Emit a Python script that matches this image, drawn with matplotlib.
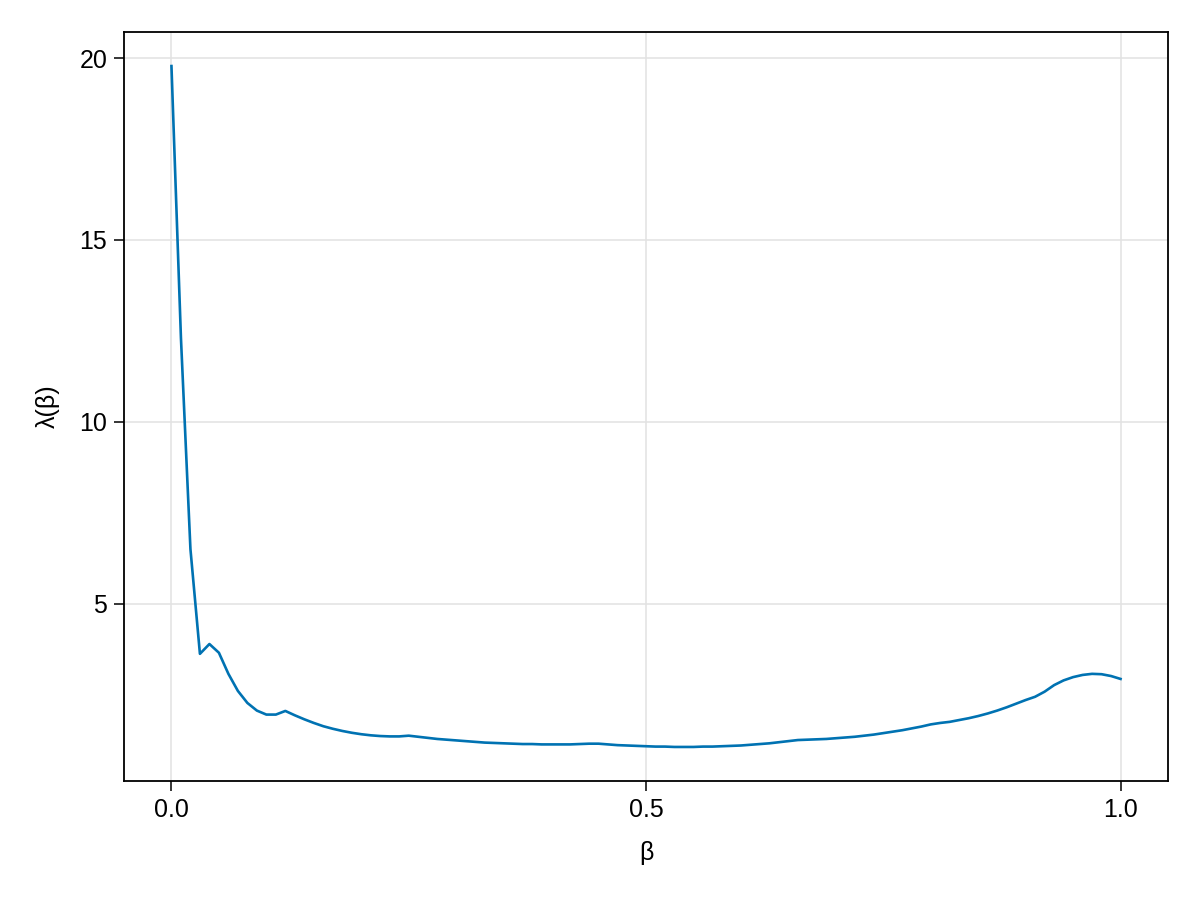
import matplotlib
matplotlib.use("Agg")
import matplotlib.pyplot as plt

beta = [i / 100 for i in range(101)]
lam = [19.78, 12.3, 6.5, 3.62, 3.89, 3.65, 3.07, 2.60, 2.27, 2.06,
       1.95, 1.95, 2.05, 1.93, 1.82, 1.72, 1.63, 1.56, 1.50, 1.45,
       1.41, 1.38, 1.36, 1.35, 1.35, 1.37, 1.34, 1.31, 1.28, 1.26,
       1.24, 1.22, 1.20, 1.18, 1.17, 1.16, 1.15, 1.14, 1.14, 1.13,
       1.13, 1.13, 1.13, 1.14, 1.15, 1.15, 1.13, 1.11, 1.10, 1.09,
       1.08, 1.07, 1.07, 1.06, 1.06, 1.06, 1.07, 1.07, 1.08, 1.09,
       1.10, 1.12, 1.14, 1.16, 1.19, 1.22, 1.25, 1.26, 1.27, 1.28,
       1.30, 1.32, 1.34, 1.37, 1.40, 1.44, 1.48, 1.52, 1.57, 1.62,
       1.68, 1.72, 1.75, 1.80, 1.85, 1.91, 1.98, 2.06, 2.15, 2.25,
       2.35, 2.44, 2.58, 2.76, 2.89, 2.98, 3.04, 3.07, 3.06, 3.01,
       2.93]
xticks = [0.0, 0.5, 1.0]
xticklabels = ["0.0", "0.5", "1.0"]
yticks = [5, 10, 15, 20]
yticklabels = ["5", "10", "15", "20"]

plt.rcParams['font.family'] = ['Liberation Sans', 'DejaVu Sans']
fig = plt.figure(figsize=(12, 9), dpi=100)
ax = fig.add_axes([124/1200, 1-781/900, (1168-124)/1200, (781-32)/900])
ax.plot(beta, lam, color="#0072B2", lw=1.9)
ax.margins(0.05)
ax.set_xticks(xticks)
ax.set_xticklabels(xticklabels)
ax.set_yticks(yticks)
ax.set_yticklabels(yticklabels)
ax.grid(True, color="#e2e2e2", lw=1.1, alpha=1.0)
ax.set_axisbelow(True)
for s in ax.spines.values():
    s.set_linewidth(1.3)
ax.tick_params(direction="out", length=7, width=1.1, labelsize=18, pad=5)
ax.set_xlabel("β", fontsize=18, labelpad=14)
ax.set_ylabel("λ(β)", fontsize=18, labelpad=14)
fig.savefig("out.png", dpi=100)
